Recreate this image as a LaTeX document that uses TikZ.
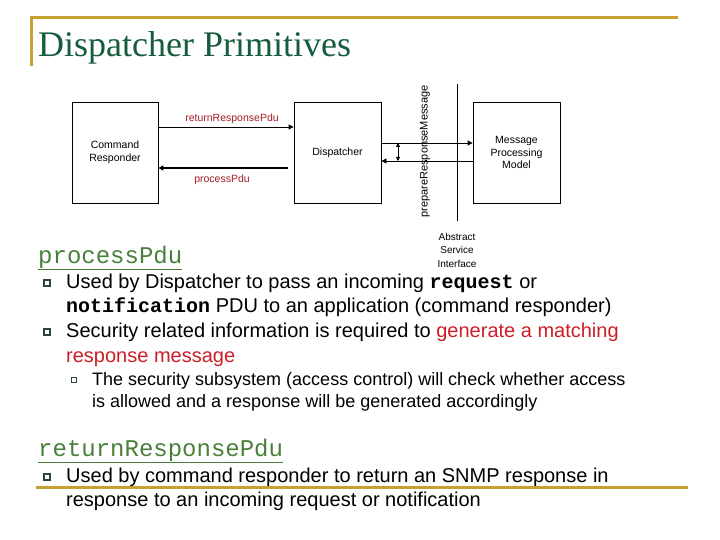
\documentclass[tikz,border=0pt]{standalone}
\usepackage{fontspec}
\setmainfont{Liberation Sans}
\setmonofont{Liberation Mono}
\newfontfamily\titlefont{Liberation Serif}
\usetikzlibrary{arrows.meta}
\definecolor{gold}{RGB}{198,160,48}
\definecolor{titlegreen}{RGB}{22,92,62}
\definecolor{headgreen}{RGB}{72,128,58}
\definecolor{lblred}{RGB}{160,30,40}
\definecolor{hired}{RGB}{205,30,40}
\definecolor{bulletc}{RGB}{45,70,60}
\newcommand{\cb}[1]{{\ttfamily\bfseries #1}}
\begin{document}
\begin{tikzpicture}[x=1pt,y=-1pt,
  box/.style={draw,line width=0.8pt,minimum width=86pt,minimum height=101pt,inner sep=0pt,align=center,font=\fontsize{10.5}{12.5}\selectfont},
  conn/.style={line width=0.8pt},
  tip/.style={-{Triangle[length=5pt,width=5pt]}},
  lbl/.style={font=\fontsize{10.5}{12}\selectfont,text=lblred,inner sep=0pt},
  small/.style={font=\fontsize{10}{13.5}\selectfont,inner sep=0pt,align=center},
  body/.style={anchor=base west,inner sep=0pt,font=\fontsize{20}{24}\selectfont},
  subbody/.style={anchor=base west,inner sep=0pt,font=\fontsize{18}{21}\selectfont},
  head/.style={anchor=base west,inner sep=0pt,text=headgreen,font=\ttfamily\fontsize{24}{28}\selectfont},
  bul/.style={draw=bulletc,line width=1.1pt,minimum size=6pt,inner sep=0pt},
  goldline/.style={gold,line width=3pt}
]
\useasboundingbox (0,0) rectangle (720,540);
\fill[white] (0,0) rectangle (720,540);

% title frame
\coordinate (tl) at (31,18);
\coordinate (tr) at (678,18);
\coordinate (tb) at (31,66);
\draw[goldline] ([xshift=-1.5pt]tl) -- (tr);
\draw[goldline] (tl) -- (tb);
\node[anchor=base west,inner sep=0pt,text=titlegreen,font=\titlefont\fontsize{36}{40}\selectfont] (title) at (38,57) {Dispatcher Primitives};

% diagram
\node[box] (cr) at (115,152.5) {Command\\Responder};
\node[box,minimum width=87pt] (disp) at (337.5,152.5) {Dispatcher};
\node[box,minimum width=87pt] (mpm) at (516.5,152.5) {Message\\Processing\\Model};

\draw[conn,tip] (cr.east |- 0,127) -- (disp.west |- 0,127);
\node[lbl] (lret) at (232,119) {returnResponsePdu};

\coordinate (pstart) at (288,168);
\draw[line width=2pt,tip] (pstart) -- (cr.east |- pstart);
\node[lbl] (lproc) at (222,180) {processPdu};

\draw[conn,tip] (disp.east |- 0,143) -- (mpm.west |- 0,143);
\draw[conn,tip] (mpm.west |- 0,161) -- (disp.east |- 0,161);
\coordinate (dtop) at (398,143);
\coordinate (dbot) at (398,161);
\draw[conn,{Triangle[length=4pt,width=4pt]}-{Triangle[length=4pt,width=4pt]}] (dtop) -- (dbot);

\node[rotate=90,font=\fontsize{11}{12}\selectfont,inner sep=0pt] (prep) at (425,151.5) {prepareResponseMessage};

\coordinate (asitop) at (457,84);
\coordinate (asibot) at (457,221);
\draw[conn] (asitop) -- (asibot);
\node[small] (asi) at (457,250) {Abstract\\Service\\Interface};

% text: processPdu
\node[head] (h1) at (38,263) {\underline{processPdu}};
\node[bul] (b1) at (47,283) {};
\node[body] (t1) at (66,288) {Used by Dispatcher to pass an incoming \cb{request} or};
\node[body] (t2) at (66,312) {\cb{notification} PDU to an application (command responder)};
\node[bul] (b2) at (47,332) {};
\node[body] (t3) at (66,337) {Security related information is required to \textcolor{hired}{generate a matching}};
\node[body,text=hired] (t4) at (66,362) {response message};
\node[bul,minimum size=5pt] (b3) at (74,380) {};
\node[subbody] (t5) at (92,385) {The security subsystem (access control) will check whether access};
\node[subbody] (t6) at (92,407) {is allowed and a response will be generated accordingly};

% text: returnResponsePdu
\node[head] (h2) at (38,456) {\underline{returnResponsePdu}};
\node[bul] (b4) at (47,477) {};
\node[body] (t7) at (66,482) {Used by command responder to return an SNMP response in};
\node[body] (t8) at (66,506) {response to an incoming request or notification};

\coordinate (gl) at (36,487);
\coordinate (gr) at (688,487);
\draw[goldline] (gl) -- (gr);
\end{tikzpicture}
\end{document}
